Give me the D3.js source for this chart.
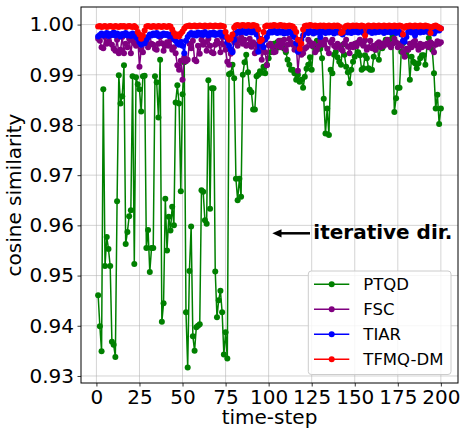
<!DOCTYPE html>
<html>
<head>
<meta charset="utf-8">
<script src="https://cdn.jsdelivr.net/npm/d3@7"></script>
<style>
  body { margin: 0; background: #fff; }
  svg { font-family: "DejaVu Sans", sans-serif; }
</style>
</head>
<body>
<script>
// cosine similarity per time-step for the four quantization methods
var steps = d3.range(1, 201);
var xTicks = [0, 25, 50, 75, 100, 125, 150, 175, 200];
var yTicks = [0.93, 0.94, 0.95, 0.96, 0.97, 0.98, 0.99, 1.00];
var names = ["PTQD", "FSC", "TIAR", "TFMQ-DM"];
var colors = ["green", "purple", "blue", "red"];

var ptqd = [
  0.9461,0.9399,0.9349,0.9871,0.9519,0.9577,0.9553,0.9519,0.9368,0.9362,
  0.9338,0.9648,0.9899,0.9843,0.9857,0.9919,0.9563,0.9587,0.9618,0.9630,
  0.9897,0.9523,0.9895,0.9881,0.9871,0.9827,0.9897,0.9898,0.9555,0.9591,
  0.9507,0.9555,0.9555,0.9897,0.9885,0.9815,0.9930,0.9408,0.9445,0.9653,
  0.9550,0.9617,0.9590,0.9637,0.9600,0.9845,0.9879,0.9843,0.9668,0.9861,
  0.9925,0.9427,0.9317,0.9509,0.9598,0.9379,0.9350,0.9397,0.9400,0.9403,
  0.9670,0.9667,0.9610,0.9603,0.9889,0.9633,0.9873,0.9873,0.9508,0.9417,
  0.9451,0.9470,0.9427,0.9343,0.9387,0.9335,0.9901,0.9903,0.9920,0.9893,
  0.9693,0.9650,0.9693,0.9657,0.9900,0.9925,0.9940,0.9905,0.9870,0.9865,
  0.9831,0.9831,0.9897,0.9900,0.9907,0.9904,0.9916,0.9903,0.9920,0.9933,
  0.9945,0.9958,0.9962,0.9950,0.9965,0.9955,0.9968,0.9960,0.9952,0.9945,
  0.9930,0.9920,0.9910,0.9910,0.9903,0.9890,0.9900,0.9886,0.9890,0.9874,
  0.9896,0.9912,0.9920,0.9935,0.9910,0.9956,0.9962,0.9968,0.9960,0.9952,
  0.9933,0.9852,0.9783,0.9833,0.9780,0.9910,0.9903,0.9940,0.9946,0.9935,
  0.9926,0.9920,0.9960,0.9940,0.9916,0.9905,0.9883,0.9910,0.9926,0.9936,
  0.9963,0.9945,0.9939,0.9910,0.9913,0.9939,0.9933,0.9913,0.9910,0.9910,
  0.9936,0.9950,0.9960,0.9930,0.9956,0.9953,0.9963,0.9970,0.9965,0.9963,
  0.9970,0.9976,0.9826,0.9853,0.9874,0.9874,0.9946,0.9963,0.9943,0.9939,
  0.9950,0.9890,0.9936,0.9926,0.9923,0.9913,0.9923,0.9933,0.9939,0.9939,
  0.9920,0.9960,0.9973,0.9963,0.9950,0.9903,0.9833,0.9860,0.9802,0.9833
];
var fsc = [
  0.9972,0.9968,0.9955,0.9953,0.9975,0.9962,0.9966,0.9978,0.9960,0.9952,
  0.9948,0.9970,0.9943,0.9950,0.9975,0.9943,0.9962,0.9955,0.9972,0.9943,
  0.9968,0.9963,0.9958,0.9975,0.9916,0.9950,0.9945,0.9965,0.9972,0.9955,
  0.9978,0.9962,0.9960,0.9952,0.9950,0.9962,0.9975,0.9963,0.9948,0.9958,
  0.9965,0.9958,0.9970,0.9950,0.9955,0.9943,0.9919,0.9910,0.9928,0.9890,
  0.9935,0.9927,0.9930,0.9962,0.9953,0.9968,0.9930,0.9927,0.9958,0.9942,
  0.9970,0.9960,0.9965,0.9948,0.9972,0.9958,0.9945,0.9943,0.9960,0.9968,
  0.9963,0.9945,0.9975,0.9960,0.9950,0.9926,0.9920,0.9942,0.9948,0.9965,
  0.9972,0.9958,0.9968,0.9975,0.9962,0.9970,0.9958,0.9960,0.9972,0.9956,
  0.9965,0.9943,0.9960,0.9955,0.9968,0.9930,0.9948,0.9945,0.9919,0.9959,
  0.9962,0.9956,0.9945,0.9946,0.9958,0.9968,0.9955,0.9962,0.9970,0.9950,
  0.9960,0.9972,0.9965,0.9960,0.9950,0.9962,0.9908,0.9945,0.9940,0.9943,
  0.9952,0.9955,0.9970,0.9965,0.9958,0.9962,0.9945,0.9950,0.9958,0.9968,
  0.9962,0.9960,0.9970,0.9952,0.9943,0.9965,0.9970,0.9958,0.9955,0.9962,
  0.9958,0.9951,0.9948,0.9963,0.9970,0.9956,0.9943,0.9960,0.9955,0.9962,
  0.9957,0.9965,0.9970,0.9962,0.9958,0.9969,0.9950,0.9955,0.9968,0.9953,
  0.9958,0.9950,0.9962,0.9965,0.9955,0.9962,0.9958,0.9965,0.9970,0.9960,
  0.9955,0.9962,0.9972,0.9965,0.9955,0.9962,0.9958,0.9945,0.9936,0.9952,
  0.9950,0.9962,0.9955,0.9965,0.9968,0.9958,0.9950,0.9962,0.9955,0.9960,
  0.9958,0.9962,0.9955,0.9965,0.9962,0.9945,0.9960,0.9967,0.9962,0.9965
];
var tiar = [
  0.9976,0.9979,0.9982,0.9978,0.9980,0.9983,0.9977,0.9981,0.9979,0.9984,
  0.9978,0.9982,0.9980,0.9976,0.9981,0.9979,0.9983,0.9978,0.9980,0.9977,
  0.9982,0.9979,0.9975,0.9972,0.9965,0.9960,0.9968,0.9963,0.9970,0.9975,
  0.9980,0.9978,0.9982,0.9979,0.9983,0.9977,0.9980,0.9978,0.9982,0.9979,
  0.9981,0.9977,0.9980,0.9976,0.9972,0.9968,0.9963,0.9960,0.9966,0.9958,
  0.9943,0.9968,0.9975,0.9980,0.9983,0.9979,0.9982,0.9978,0.9984,0.9980,
  0.9983,0.9979,0.9985,0.9981,0.9978,0.9983,0.9980,0.9984,0.9979,0.9982,
  0.9980,0.9984,0.9978,0.9983,0.9975,0.9965,0.9958,0.9950,0.9945,0.9970,
  0.9982,0.9986,0.9984,0.9988,0.9985,0.9987,0.9983,0.9988,0.9986,0.9984,
  0.9988,0.9985,0.9980,0.9946,0.9972,0.9962,0.9955,0.9970,0.9975,0.9983,
  0.9986,0.9984,0.9988,0.9985,0.9983,0.9987,0.9984,0.9986,0.9982,0.9985,
  0.9983,0.9986,0.9984,0.9980,0.9975,0.9963,0.9946,0.9958,0.9970,0.9978,
  0.9984,0.9986,0.9983,0.9987,0.9985,0.9982,0.9986,0.9984,0.9988,0.9975,
  0.9985,0.9987,0.9983,0.9986,0.9984,0.9988,0.9985,0.9982,0.9986,0.9984,
  0.9987,0.9983,0.9980,0.9985,0.9988,0.9984,0.9986,0.9983,0.9987,0.9985,
  0.9988,0.9984,0.9990,0.9986,0.9983,0.9987,0.9985,0.9989,0.9986,0.9983,
  0.9987,0.9984,0.9988,0.9985,0.9990,0.9986,0.9983,0.9988,0.9985,0.9987,
  0.9984,0.9989,0.9986,0.9983,0.9987,0.9985,0.9980,0.9968,0.9966,0.9975,
  0.9985,0.9988,0.9984,0.9987,0.9978,0.9985,0.9988,0.9984,0.9987,0.9985,
  0.9989,0.9986,0.9984,0.9988,0.9985,0.9982,0.9987,0.9990,0.9988,0.9992
];
var tfmq = [
  0.9996,0.9997,0.9995,0.9996,0.9997,0.9995,0.9996,0.9997,0.9996,0.9995,
  0.9997,0.9996,0.9995,0.9997,0.9996,0.9997,0.9995,0.9996,0.9997,0.9996,
  0.9995,0.9997,0.9994,0.9985,0.9980,0.9972,0.9978,0.9988,0.9996,0.9997,
  0.9996,0.9995,0.9997,0.9996,0.9995,0.9997,0.9996,0.9995,0.9997,0.9996,
  0.9995,0.9997,0.9996,0.9990,0.9983,0.9977,0.9980,0.9976,0.9982,0.9986,
  0.9992,0.9996,0.9997,0.9998,0.9996,0.9997,0.9998,0.9996,0.9997,0.9998,
  0.9997,0.9996,0.9998,0.9997,0.9996,0.9998,0.9997,0.9996,0.9998,0.9997,
  0.9996,0.9998,0.9997,0.9996,0.9985,0.9975,0.9970,0.9972,0.9980,0.9994,
  0.9998,0.9999,0.9997,0.9998,0.9999,0.9998,0.9997,0.9999,0.9998,0.9997,
  0.9999,0.9998,0.9997,0.9990,0.9967,0.9970,0.9985,0.9996,0.9998,0.9997,
  0.9998,0.9997,0.9999,0.9998,0.9997,0.9998,0.9999,0.9997,0.9998,0.9996,
  0.9997,0.9998,0.9997,0.9996,0.9992,0.9985,0.9970,0.9952,0.9962,0.9990,
  0.9997,0.9998,0.9997,0.9999,0.9998,0.9997,0.9998,0.9996,0.9997,0.9998,
  0.9997,0.9998,0.9996,0.9997,0.9998,0.9997,0.9996,0.9998,0.9997,0.9998,
  0.9996,0.9983,0.9985,0.9994,0.9997,0.9998,0.9996,0.9997,0.9998,0.9997,
  0.9998,0.9997,0.9996,0.9998,0.9997,0.9978,0.9996,0.9998,0.9997,0.9996,
  0.9998,0.9997,0.9996,0.9998,0.9997,0.9996,0.9998,0.9997,0.9996,0.9998,
  0.9997,0.9996,0.9998,0.9997,0.9996,0.9998,0.9997,0.9980,0.9994,0.9997,
  0.9996,0.9998,0.9997,0.9996,0.9998,0.9997,0.9996,0.9998,0.9997,0.9996,
  0.9998,0.9997,0.9996,0.9983,0.9995,0.9997,0.9998,0.9996,0.9994,0.9992
];
var series = [ptqd, fsc, tiar, tfmq];

var W = 461, H = 430;
// plot box (don't call it "top": that name belongs to window)
var pLeft = 81, pRight = 458, pTop = 7, pBottom = 383;

var svg = d3.select("body").append("svg")
    .attr("width", W)
    .attr("height", H);

// matplotlib-like 5% margins round the data
var x = d3.scaleLinear().domain([1 - 9.95, 200 + 9.95]).range([pLeft, pRight]);
var y = d3.scaleLinear().domain([0.9286, 1.0035]).range([pBottom, pTop]);

// grid
svg.append("g").selectAll("line")
    .data(xTicks).enter().append("line")
    .attr("x1", function(d) { return x(d); })
    .attr("x2", function(d) { return x(d); })
    .attr("y1", pTop).attr("y2", pBottom)
    .attr("stroke", "#b0b0b0").attr("stroke-opacity", 0.55).attr("stroke-width", 1);
svg.append("g").selectAll("line")
    .data(yTicks).enter().append("line")
    .attr("x1", pLeft).attr("x2", pRight)
    .attr("y1", function(d) { return y(d); })
    .attr("y2", function(d) { return y(d); })
    .attr("stroke", "#b0b0b0").attr("stroke-opacity", 0.55).attr("stroke-width", 1);

// series
var line = d3.line()
    .x(function(d, i) { return x(steps[i]); })
    .y(function(d) { return y(d); });

series.forEach(function(vals, k) {
    var g = svg.append("g");
    g.append("path")
        .attr("d", line(vals))
        .attr("fill", "none")
        .attr("stroke", colors[k])
        .attr("stroke-width", 1.5)
        .attr("stroke-linejoin", "round");
    g.selectAll("circle")
        .data(vals).enter().append("circle")
        .attr("cx", function(d, i) { return x(steps[i]); })
        .attr("cy", function(d) { return y(d); })
        .attr("r", 3)
        .attr("fill", colors[k]);
});

// axes
var xAxis = d3.axisBottom(x).tickValues(xTicks).tickSize(3.5).tickPadding(3.5).tickFormat(d3.format("d"));
var yAxis = d3.axisLeft(y).tickValues(yTicks).tickSize(3.5).tickPadding(3.5).tickFormat(d3.format(".2f"));

var gx = svg.append("g").attr("transform", "translate(0," + pBottom + ")").call(xAxis);
var gy = svg.append("g").attr("transform", "translate(" + pLeft + ",0)").call(yAxis);
[gx, gy].forEach(function(g) {
    g.select(".domain").remove();
    g.selectAll("line").attr("stroke", "#000").attr("stroke-width", 0.8);
    g.selectAll("text").attr("fill", "#000")
        .style("font-size", "20px")
        .style("font-family", "DejaVu Sans");
});

// frame
svg.append("rect")
    .attr("x", pLeft).attr("y", pTop)
    .attr("width", pRight - pLeft).attr("height", pBottom - pTop)
    .attr("fill", "none").attr("stroke", "#000").attr("stroke-width", 1);

// axis labels
svg.append("text")
    .attr("x", (pLeft + pRight) / 2).attr("y", 423.5)
    .attr("text-anchor", "middle")
    .style("font-size", "20px")
    .text("time-step");
svg.append("text")
    .attr("transform", "translate(21," + (pTop + pBottom) / 2 + ")rotate(-90)")
    .attr("text-anchor", "middle")
    .style("font-size", "20px")
    .text("cosine similarity");

// annotation arrow
svg.append("line")
    .attr("x1", 310).attr("y1", 233.3)
    .attr("x2", 280).attr("y2", 233.3)
    .attr("stroke", "#000").attr("stroke-width", 2.5);
svg.append("path")
    .attr("d", "M272.3,233.3L281.5,229.2L281.5,237.4Z")
    .attr("fill", "#000");
svg.append("text")
    .attr("x", 313.3).attr("y", 239.3)
    .style("font-size", "20px")
    .style("font-weight", "bold")
    .text("iterative dir.");

// legend
var leg = svg.append("g");
leg.append("rect")
    .attr("x", 308.3).attr("y", 271)
    .attr("width", 142.7).attr("height", 103.5)
    .attr("rx", 3)
    .attr("fill", "#fff").attr("fill-opacity", 0.8)
    .attr("stroke", "#cccccc").attr("stroke-width", 1);
var item = leg.selectAll("g")
    .data(names).enter().append("g")
    .attr("transform", function(d, i) { return "translate(0," + (284.3 + i * 25) + ")"; });
item.append("line")
    .attr("x1", 314).attr("x2", 349.3)
    .attr("stroke", function(d, i) { return colors[i]; })
    .attr("stroke-width", 1.5);
item.append("circle")
    .attr("cx", 331.7).attr("r", 3)
    .attr("fill", function(d, i) { return colors[i]; });
item.append("text")
    .attr("x", 363.3).attr("y", 6)
    .style("font-size", "16.5px")
    .text(function(d) { return d; });
</script>
</body>
</html>
